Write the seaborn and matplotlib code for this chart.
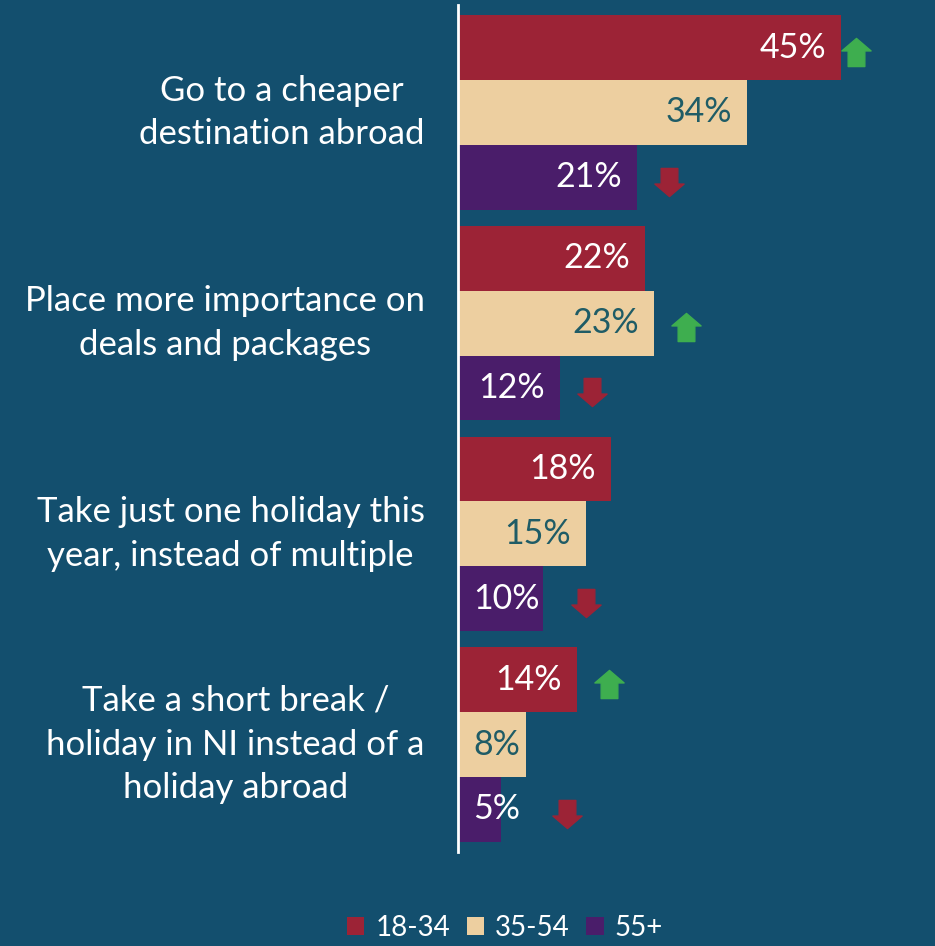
import matplotlib
matplotlib.use("Agg")
import matplotlib.pyplot as plt
from matplotlib.path import Path
from matplotlib.patches import Patch
import seaborn as sns
import pandas as pd

# --- data -------------------------------------------------------------
categories = [
    "Go to a cheaper\ndestination abroad",
    "Place more importance on\ndeals and packages",
    "Take just one holiday this\nyear, instead of multiple",
    "Take a short break /\nholiday in NI instead of a\nholiday abroad",
]
age_groups = ["18-34", "35-54", "55+"]
values_18_34 = [45, 22, 18, 14]
values_35_54 = [34, 23, 15, 8]
values_55_plus = [21, 12, 10, 5]

# significant change vs. total: "up", "down" or "" (none)
change_18_34 = ["up", "", "", "up"]
change_35_54 = ["", "up", "", ""]
change_55_plus = ["down", "down", "down", "down"]

# --- styling ----------------------------------------------------------
BG = "#134F6E"
colors = {"18-34": "#9C2336", "35-54": "#EDCFA0", "55+": "#4A1D6A"}
label_colors = {"18-34": "white", "35-54": "#1F5C66", "55+": "white"}
UP_GREEN = "#3EAE4F"
DOWN_RED = "#9C2336"

sns.set_theme(style="white")
plt.rcParams["font.family"] = ["Lato", "DejaVu Sans"]

rows = []
for grp, vals in zip(age_groups, [values_18_34, values_35_54, values_55_plus]):
    for cat, v in zip(categories, vals):
        rows.append({"category": cat, "age": grp, "value": v})
df = pd.DataFrame(rows)

fig = plt.figure(figsize=(9.35, 9.46), dpi=100, facecolor=BG)
ax = fig.add_axes([458 / 935, 1 - 852 / 946, 1 - 458 / 935, (852 - 5) / 946])
ax.set_facecolor(BG)

sns.barplot(
    data=df, y="category", x="value", hue="age", orient="h",
    hue_order=age_groups, order=categories, palette=colors,
    width=0.924, dodge=True, ax=ax, legend=False, saturation=1,
    linewidth=0,
)

ax.set_xlim(0, 56.05)
ax.set_ylim(3.51, -0.51)
ax.set_xlabel("")
ax.set_ylabel("")
ax.set_xticks([])
ax.tick_params(axis="y", length=0, pad=24)
for lbl in ax.get_yticklabels():
    lbl.set_fontsize(25)
    lbl.set_color("white")
    lbl.set_multialignment("center")
    lbl.set_linespacing(1.45)
    lbl.set_verticalalignment("center")

for side in ["top", "right", "bottom"]:
    ax.spines[side].set_visible(False)
ax.spines["left"].set_color("white")
ax.spines["left"].set_linewidth(2)

# arrow marker shapes
up_arrow = Path(
    [(0, 13.5), (14, 1.5), (8, 1.5), (8, -13.5), (-8, -13.5), (-8, 1.5), (-14, 1.5), (0, 13.5)],
    [Path.MOVETO] + [Path.LINETO] * 6 + [Path.CLOSEPOLY],
)
down_arrow = Path(
    [(0, -13.5), (14, -1.5), (8, -1.5), (8, 13.5), (-8, 13.5), (-8, -1.5), (-14, -1.5), (0, -13.5)],
    [Path.MOVETO] + [Path.LINETO] * 6 + [Path.CLOSEPOLY],
)

changes = [change_18_34, change_35_54, change_55_plus]
pad = 1.76
fig.canvas.draw()
renderer = fig.canvas.get_renderer()
inv = ax.transData.inverted()
for container, grp, chg in zip(ax.containers, age_groups, changes):
    for patch, flag in zip(container.patches, chg):
        v = patch.get_width()
        yc = patch.get_y() + patch.get_height() / 2
        if v > 10:
            t = ax.text(v - pad, yc, f"{v:.0f}%", ha="right", va="center",
                        fontsize=24.5, color=label_colors[grp])
        else:
            t = ax.text(pad, yc, f"{v:.0f}%", ha="left", va="center",
                        fontsize=24.5, color=label_colors[grp])
        if flag:
            bb = t.get_window_extent(renderer)
            label_right = inv.transform((bb.x1, bb.y0))[0]
            gap = 5.5 if v < 40 else 3.5
            marker = up_arrow if flag == "up" else down_arrow
            col = UP_GREEN if flag == "up" else DOWN_RED
            ax.plot([label_right + gap], [yc + 0.02], marker=marker, markersize=21,
                    color=col, linestyle="none", clip_on=False)

handles = [Patch(facecolor=colors[g], edgecolor="none") for g in age_groups]
fig.legend(handles, age_groups, loc="center", bbox_to_anchor=(505 / 935, (946 - 928) / 946),
           ncol=3, frameon=False, fontsize=20, labelcolor="white",
           handlelength=0.62, handleheight=0.62, handletextpad=0.4, columnspacing=0.6)

fig.savefig("out.png", dpi=100, facecolor=BG)
